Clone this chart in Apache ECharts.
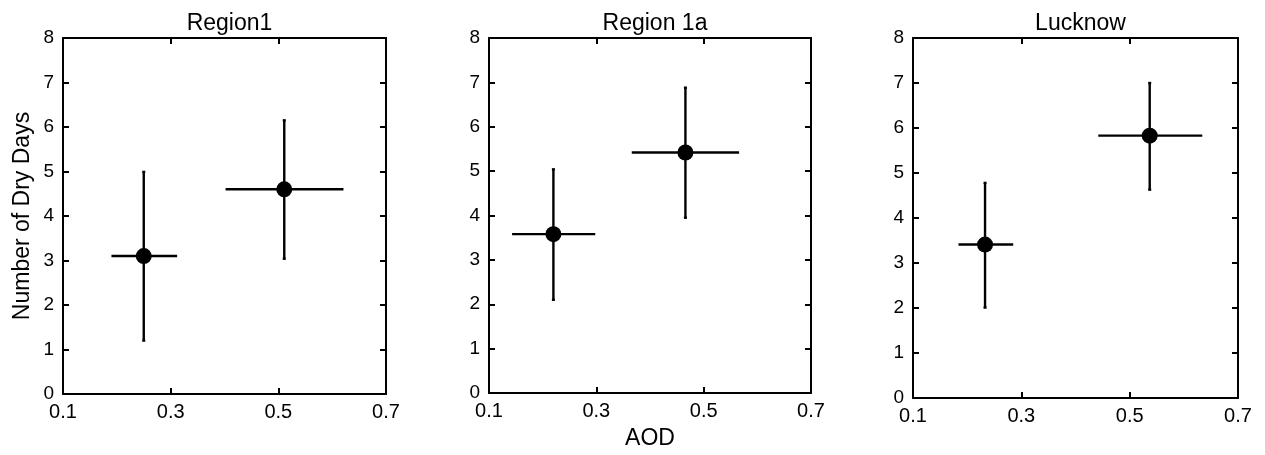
<!DOCTYPE html>
<html lang="en">
<head>
    <meta charset="UTF-8">
    <title>Dry days vs AOD</title>
    <style>
      html, body { margin: 0; padding: 0; background: #fff; }
      #main { width: 1265px; height: 455px; }
    </style>
</head>
<body>
<div id="main"></div>
<script src="https://cdn.jsdelivr.net/npm/echarts@6/dist/echarts.min.js"></script>
<script>
  // panel titles
  var panelTitles = ['Region1', 'Region 1a', 'Lucknow'];
  var xTicks = [0.1, 0.3, 0.5, 0.7];
  var yTicks = [0, 1, 2, 3, 4, 5, 6, 7, 8];

  // mean AOD / dry days, with the low and high ends of each bar
  var region1X = [0.25, 0.511];
  var region1Y = [3.1, 4.6];
  var region1XRange = [[0.19, 0.312], [0.402, 0.621]];
  var region1YRange = [[1.2, 4.99], [3.04, 6.15]];

  var region1aX = [0.22, 0.466];
  var region1aY = [3.58, 5.42];
  var region1aXRange = [[0.143, 0.298], [0.366, 0.566]];
  var region1aYRange = [[2.1, 5.04], [3.95, 6.88]];

  var lucknowX = [0.233, 0.537];
  var lucknowY = [3.41, 5.83];
  var lucknowXRange = [[0.184, 0.285], [0.442, 0.634]];
  var lucknowYRange = [[2.01, 4.78], [4.63, 7.0]];

  var panels = [
    [region1X, region1Y, region1XRange, region1YRange],
    [region1aX, region1aY, region1aXRange, region1aYRange],
    [lucknowX, lucknowY, lucknowXRange, lucknowYRange]
  ];

  var grids = [
    {left: 63, top: 38, width: 323, height: 356},
    {left: 489, top: 38, width: 322, height: 357},
    {left: 913, top: 38, width: 325, height: 360}
  ];

  var font = 'Liberation Sans, Arial, sans-serif';

  function renderErrorBars(params, api) {
    var x = api.value(0), y = api.value(1);
    var xl = api.coord([api.value(2), y]);
    var xh = api.coord([api.value(3), y]);
    var yl = api.coord([x, api.value(4)]);
    var yh = api.coord([x, api.value(5)]);
    var style = {stroke: '#000', lineWidth: 2.4};
    var cap = 1.5;
    return {
      type: 'group',
      children: [
        {type: 'line', shape: {x1: xl[0], y1: xl[1], x2: xh[0], y2: xh[1]}, style: style},
        {type: 'line', shape: {x1: yl[0], y1: yl[1], x2: yh[0], y2: yh[1]}, style: style},
        {type: 'line', shape: {x1: yl[0] - cap, y1: yl[1], x2: yl[0] + cap, y2: yl[1]}, style: style},
        {type: 'line', shape: {x1: yh[0] - cap, y1: yh[1], x2: yh[0] + cap, y2: yh[1]}, style: style}
      ]
    };
  }

  var titles = [], xAxes = [], yAxes = [], series = [];
  for (var i = 0; i < 3; i++) {
    var g = grids[i];
    titles.push({
      text: panelTitles[i],
      left: g.left + g.width / 2,
      top: 7,
      textAlign: 'center',
      textStyle: {fontFamily: font, fontSize: 23, fontWeight: 'normal', color: '#000'}
    });
    // bottom + top x axes
    xAxes.push({
      type: 'value', gridIndex: i, position: 'bottom',
      min: xTicks[0], max: xTicks[xTicks.length - 1], interval: 0.2,
      name: i == 1 ? 'AOD' : '', nameLocation: 'middle', nameGap: 34,
      nameTextStyle: {fontFamily: font, fontSize: 23, color: '#000'},
      axisLine: {show: true, onZero: false, lineStyle: {color: '#000', width: 2}},
      axisTick: {show: true, inside: true, length: 6, lineStyle: {color: '#000', width: 2}},
      axisLabel: {color: '#000', fontFamily: font, fontSize: 20, margin: 8,
        formatter: function (v) { return v.toFixed(1); }},
      splitLine: {show: false}
    });
    xAxes.push({
      type: 'value', gridIndex: i, position: 'top',
      min: xTicks[0], max: xTicks[xTicks.length - 1], interval: 0.2,
      axisLine: {show: true, onZero: false, lineStyle: {color: '#000', width: 2}},
      axisTick: {show: true, inside: true, length: 6, lineStyle: {color: '#000', width: 2}},
      axisLabel: {show: false},
      splitLine: {show: false}
    });
    // left + right y axes
    yAxes.push({
      type: 'value', gridIndex: i, position: 'left',
      min: yTicks[0], max: yTicks[yTicks.length - 1], interval: 1,
      name: i == 0 ? 'Number of Dry Days' : '', nameLocation: 'middle', nameGap: 29,
      nameTextStyle: {fontFamily: font, fontSize: 23, color: '#000'},
      axisLine: {show: true, onZero: false, lineStyle: {color: '#000', width: 2}},
      axisTick: {show: true, inside: true, length: 6, lineStyle: {color: '#000', width: 2}},
      axisLabel: {color: '#000', fontFamily: font, fontSize: 19, margin: 9},
      splitLine: {show: false}
    });
    yAxes.push({
      type: 'value', gridIndex: i, position: 'right',
      min: yTicks[0], max: yTicks[yTicks.length - 1], interval: 1,
      axisLine: {show: true, onZero: false, lineStyle: {color: '#000', width: 2}},
      axisTick: {show: true, inside: true, length: 6, lineStyle: {color: '#000', width: 2}},
      axisLabel: {show: false},
      splitLine: {show: false}
    });

    var p = panels[i];
    var barData = [], dotData = [];
    for (var k = 0; k < p[0].length; k++) {
      barData.push([p[0][k], p[1][k], p[2][k][0], p[2][k][1], p[3][k][0], p[3][k][1]]);
      dotData.push([p[0][k], p[1][k]]);
    }
    series.push({
      type: 'custom', xAxisIndex: 2 * i, yAxisIndex: 2 * i,
      renderItem: renderErrorBars,
      encode: {x: [0, 2, 3], y: [1, 4, 5]},
      data: barData, silent: true, z: 2
    });
    series.push({
      type: 'scatter', xAxisIndex: 2 * i, yAxisIndex: 2 * i,
      symbol: 'circle', symbolSize: 16,
      itemStyle: {color: '#000', opacity: 1},
      data: dotData, silent: true, z: 3
    });
  }

  var myChart = echarts.init(document.getElementById('main'));
  var option = {
    animation: false,
    backgroundColor: '#fff',
    title: titles,
    grid: grids,
    xAxis: xAxes,
    yAxis: yAxes,
    series: series
  };
  myChart.setOption(option);
</script>
</body>
</html>
